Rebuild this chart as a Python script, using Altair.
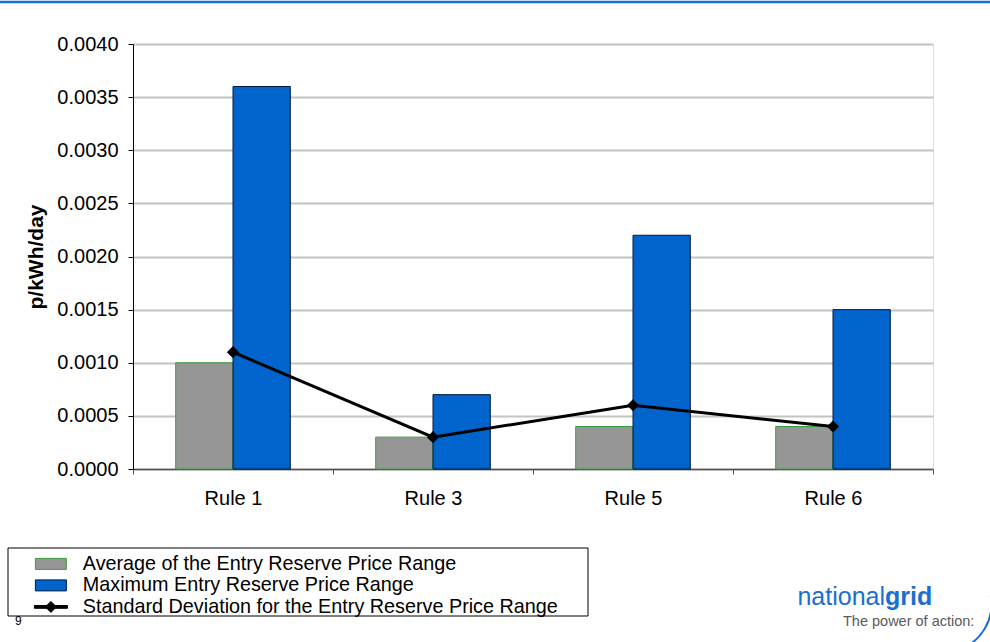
import altair as alt
import pandas as pd

# Chart values
rules = ["Rule 1", "Rule 3", "Rule 5", "Rule 6"]
avg_range = [0.0010, 0.0003, 0.0004, 0.0004]
max_range = [0.0036, 0.0007, 0.0022, 0.0015]
std_dev = [0.0011, 0.0003, 0.0006, 0.0004]
y_ticks = [0.0, 0.0005, 0.0010, 0.0015, 0.0020, 0.0025, 0.0030, 0.0035, 0.0040]

series_names = [
    "Average of the Entry Reserve Price Range",
    "Maximum Entry Reserve Price Range",
    "Standard Deviation for the Entry Reserve Price Range",
]

bar_df = pd.DataFrame({
    "rule": rules * 2,
    "series": [series_names[0]] * len(rules) + [series_names[1]] * len(rules),
    "value": avg_range + max_range,
})
sd_df = pd.DataFrame({"rule": rules, "series": series_names[2], "value": std_dev})
one_row = pd.DataFrame({"k": [0]})

FONT = "Liberation Sans"
LEFT, TOP, W, H = 133, 44, 800, 425

fill_scale = alt.Scale(domain=series_names, range=["#969696", "#0064cc", "#000000"])
stroke_scale = alt.Scale(domain=series_names, range=["#3d9a3d", "#001a40", "#000000"])
shape_scale = alt.Scale(
    domain=series_names,
    range=[
        "M-3.1,-1.1H3.1V1.1H-3.1Z",
        "M-3.1,-1.1H3.1V1.1H-3.1Z",
        "M-3.3,-0.28H3.3V0.28H-3.3Z M0,-1.1L1.1,0L0,1.1L-1.1,0Z",
    ],
)

legend = alt.Legend(
    title=None,
    orient="none",
    legendX=-92,
    legendY=510,
    labelFont=FONT,
    labelFontSize=19.8,
    labelColor="black",
    labelOffset=22,
    labelLimit=700,
    symbolSize=100,
    symbolStrokeWidth=1,
    symbolOpacity=1,
    rowPadding=0.5,
    padding=0,
)

x_enc = alt.X(
    "rule:N",
    sort=rules,
    scale=alt.Scale(domain=rules, paddingInner=0, paddingOuter=0),
    axis=alt.Axis(
        title=None,
        labelAngle=0,
        labelFont=FONT,
        labelFontSize=20,
        labelColor="black",
        labelPadding=14,
        tickBand="extent",
        tickSize=5,
        tickColor="#505050",
        domainColor="#505050",
        domainWidth=1.5,
        grid=False,
    ),
)
y_enc = alt.Y(
    "value:Q",
    scale=alt.Scale(domain=[0, 0.004], nice=False, zero=True),
    axis=alt.Axis(
        title="p/kWh/day",
        titleFont=FONT,
        titleFontSize=21,
        titleFontWeight="bold",
        titleColor="black",
        titlePadding=10,
        values=y_ticks,
        format=".4f",
        labelFont=FONT,
        labelFontSize=20,
        labelColor="black",
        labelPadding=10,
        tickSize=5,
        tickColor="black",
        domainColor="black",
        grid=True,
        gridColor="#c4c4c4",
        gridWidth=2,
    ),
)

bars = alt.Chart(bar_df).mark_bar(strokeWidth=1).encode(
    x=x_enc,
    xOffset=alt.XOffset(
        "series:N",
        sort=series_names[:2],
        scale=alt.Scale(paddingInner=0, paddingOuter=0.745),
    ),
    y=y_enc,
    fill=alt.Fill("series:N", scale=fill_scale, legend=legend),
    stroke=alt.Stroke("series:N", scale=stroke_scale, legend=legend),
)

sd_line = alt.Chart(sd_df).mark_line(color="black", strokeWidth=3).encode(
    x=alt.X("rule:N", sort=rules),
    y=alt.Y("value:Q"),
)
sd_points = alt.Chart(sd_df).mark_point(
    shape="diamond", filled=True, size=150, color="black", opacity=1
).encode(
    x=alt.X("rule:N", sort=rules),
    y=alt.Y("value:Q"),
)

# Empty layer that only feeds the combined legend (fill + stroke + shape)
legend_layer = alt.Chart(sd_df).transform_filter("false").mark_point(
    filled=True, opacity=1
).encode(
    shape=alt.Shape("series:N", scale=shape_scale, legend=legend),
    fill=alt.Fill("series:N", scale=fill_scale, legend=legend),
    stroke=alt.Stroke("series:N", scale=stroke_scale, legend=legend),
)

legend_box = alt.Chart(one_row).mark_rect(
    fillOpacity=0, stroke="black", strokeWidth=1
).encode(
    x=alt.value(8 - LEFT), x2=alt.value(588 - LEFT),
    y=alt.value(548 - TOP), y2=alt.value(616 - TOP),
)

# Slide furniture: top rule, page number, logo, rounded frame corner
top_rule = alt.Chart(one_row).mark_rule(color="#1a6fd4", strokeWidth=2.5).encode(
    x=alt.value(-LEFT), x2=alt.value(990 - LEFT), y=alt.value(2 - TOP),
)
page_no = alt.Chart(one_row).mark_text(
    text="9", font=FONT, fontSize=12, color="black", align="left", baseline="middle"
).encode(x=alt.value(15 - LEFT), y=alt.value(621 - TOP))
logo_a = alt.Chart(one_row).mark_text(
    text="national", font=FONT, fontSize=25, color="#1a6fd0",
    align="right", baseline="alphabetic",
).encode(x=alt.value(885 - LEFT), y=alt.value(605 - TOP))
logo_b = alt.Chart(one_row).mark_text(
    text="grid", font=FONT, fontSize=25, fontWeight="bold", color="#1a6fd0",
    align="left", baseline="alphabetic",
).encode(x=alt.value(885 - LEFT), y=alt.value(605 - TOP))
tagline = alt.Chart(one_row).mark_text(
    text="The power of action:", font=FONT, fontSize=14.5, color="#5a5a5a",
    align="left", baseline="alphabetic",
).encode(x=alt.value(843 - LEFT), y=alt.value(626 - TOP))
corner = alt.Chart(one_row).mark_point(
    shape="M47.8,-8.2A48.5,48.5 0 0 1 16.2,45.7",
    size=4, filled=False, fillOpacity=0, stroke="#1a6fd4", strokeWidth=2, opacity=1,
).encode(x=alt.value(943 - LEFT), y=alt.value(604 - TOP))

chart = alt.layer(
    bars, sd_line, sd_points, legend_layer, legend_box,
    top_rule, page_no, logo_a, logo_b, tagline, corner,
).properties(
    width=W,
    height=H,
    autosize=alt.AutoSizeParams(type="none"),
    padding={"left": LEFT, "top": TOP, "right": 990 - LEFT - W, "bottom": 642 - TOP - H},
    background="white",
).configure_view(
    stroke="#b4b4b4", strokeWidth=2
).configure(font=FONT)

chart.save("out.html", embed_options={"renderer": "svg", "actions": False})
